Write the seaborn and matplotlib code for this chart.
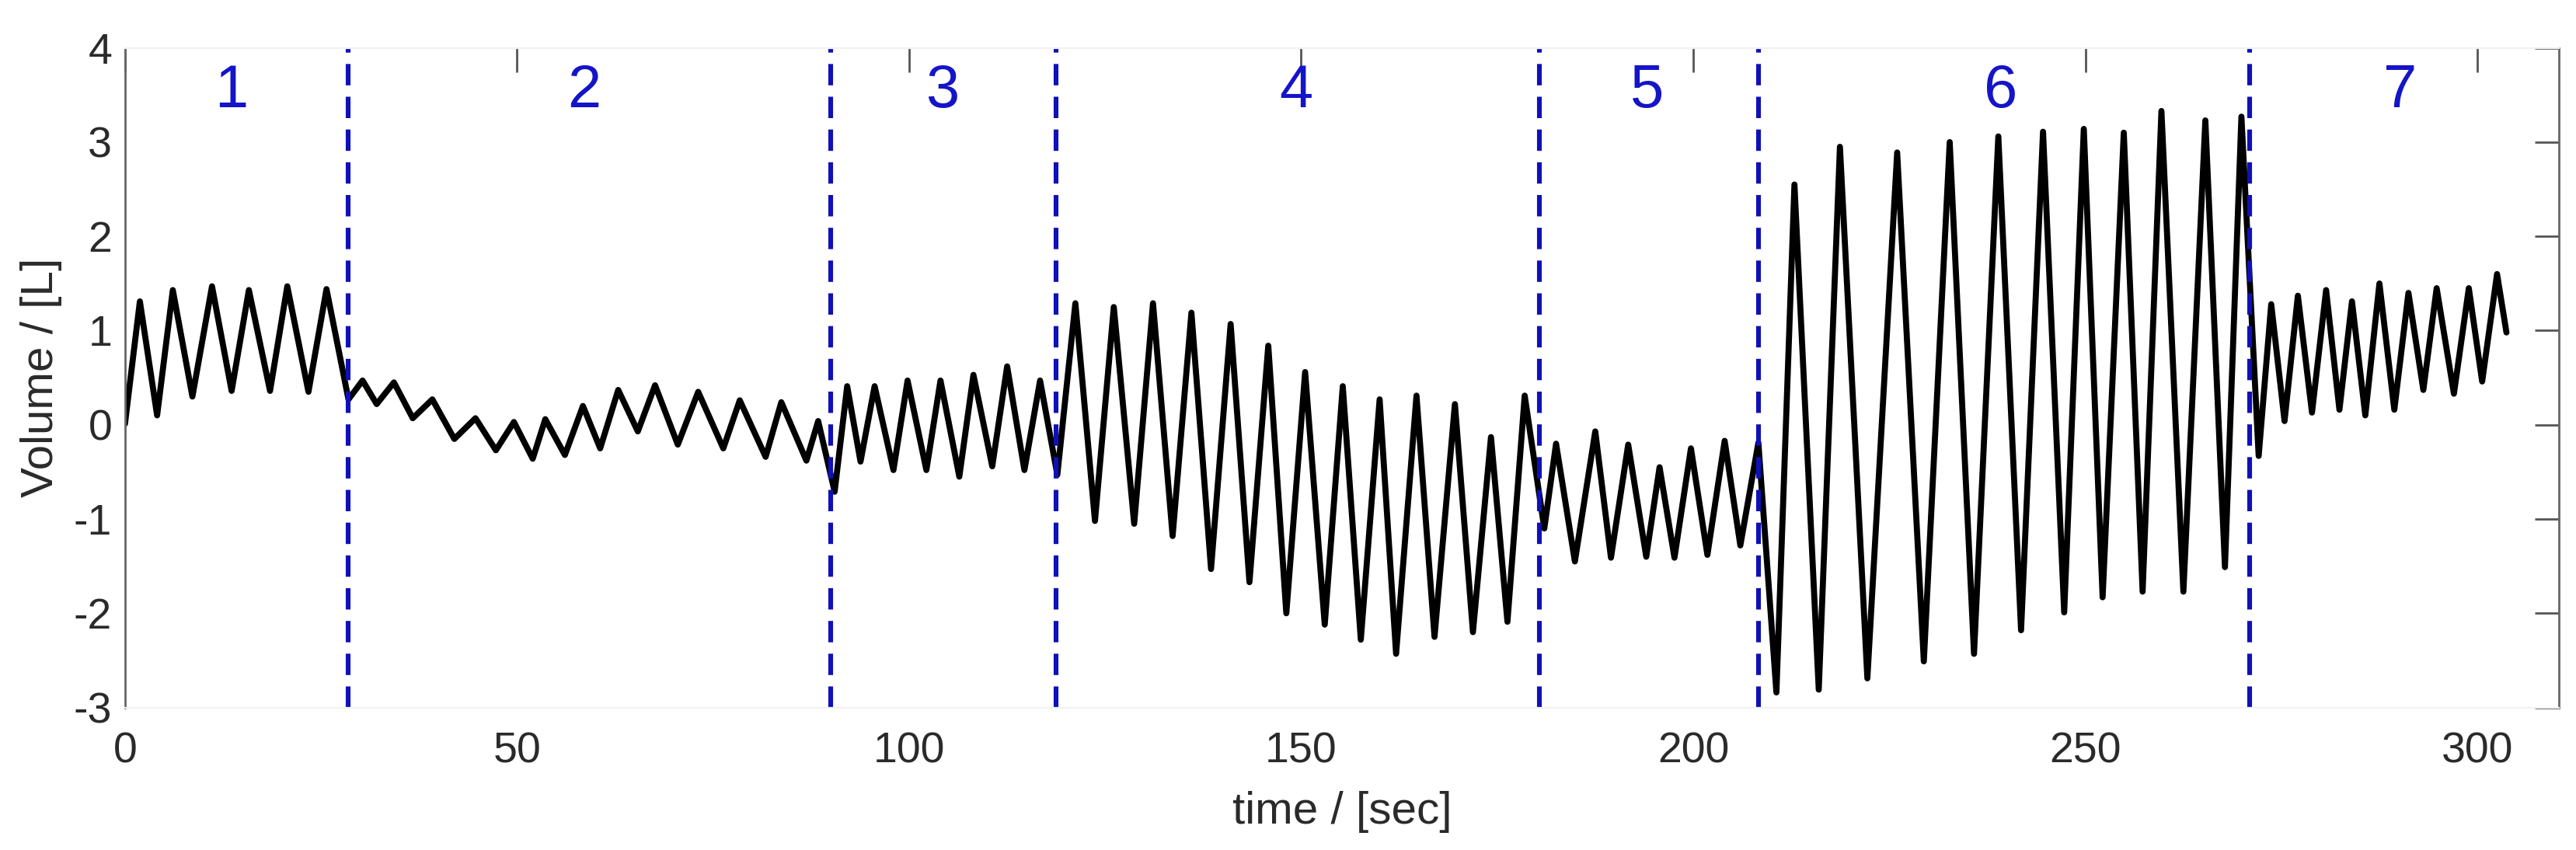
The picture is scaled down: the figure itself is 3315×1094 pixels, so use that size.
import numpy as np
import pandas as pd
import matplotlib
matplotlib.use('Agg')
import matplotlib.pyplot as plt
import seaborn as sns

time_s = [0, 1.9, 4.1, 6.1, 8.6, 11.1, 13.6, 15.8, 18.5, 20.7,
          23.4, 25.7, 28.5, 30.3, 32.1, 34.3, 36.7, 39.2, 42.0, 44.7,
          47.3, 49.6, 52.0, 53.6, 56.1, 58.4, 60.6, 62.9, 65.4, 67.6,
          70.5, 73.1, 76.3, 78.4, 81.7, 83.7, 86.9, 88.4, 90.5, 92.1,
          93.8, 95.6, 98.0, 99.8, 102.2, 104.0, 106.4, 108.2, 110.6, 112.5,
          114.7, 116.7, 118.9, 121.2, 123.7, 126.1, 128.7, 131.1, 133.6, 136.0,
          138.5, 141.0, 143.4, 145.8, 148.1, 150.5, 153.0, 155.3, 157.6, 160.0,
          162.1, 164.7, 167.0, 169.6, 171.9, 174.2, 176.3, 178.5, 181.0, 182.5,
          184.9, 187.5, 189.5, 191.7, 194.0, 195.7, 197.6, 199.7, 201.8, 204.0,
          206.0, 208.3, 210.6, 212.9, 216.0, 218.7, 222.2, 226.0, 229.4, 232.7,
          235.8, 238.9, 241.8, 244.6, 247.3, 249.8, 252.2, 254.9, 257.3, 259.7,
          262.5, 265.3, 267.8, 269.9, 272.1, 273.7, 275.4, 277.1, 278.9, 280.7,
          282.4, 284.0, 285.7, 287.5, 289.4, 291.2, 293.1, 294.8, 297.0, 298.9,
          300.6, 302.5, 303.7]
volume_l = [0.01, 1.31, 0.10, 1.43, 0.30, 1.47, 0.36, 1.43, 0.36, 1.47,
            0.35, 1.44, 0.27, 0.47, 0.22, 0.45, 0.07, 0.27, -0.15, 0.07,
            -0.27, 0.03, -0.36, 0.06, -0.32, 0.20, -0.25, 0.37, -0.07, 0.42,
            -0.21, 0.35, -0.25, 0.26, -0.34, 0.24, -0.38, 0.04, -0.71, 0.41,
            -0.39, 0.41, -0.48, 0.47, -0.48, 0.47, -0.55, 0.53, -0.44, 0.62,
            -0.48, 0.47, -0.53, 1.29, -1.02, 1.25, -1.05, 1.29, -1.18, 1.19,
            -1.53, 1.07, -1.67, 0.84, -2.0, 0.56, -2.12, 0.41, -2.28, 0.27,
            -2.43, 0.31, -2.25, 0.22, -2.2, -0.13, -2.09, 0.31, -1.1, -0.2,
            -1.45, -0.07, -1.41, -0.21, -1.40, -0.45, -1.41, -0.25, -1.38, -0.17,
            -1.28, -0.19, -2.84, 2.55, -2.81, 2.95, -2.69, 2.89, -2.51, 3.0,
            -2.43, 3.06, -2.18, 3.11, -1.99, 3.14, -1.83, 3.10, -1.77, 3.33,
            -1.77, 3.23, -1.51, 3.27, -0.33, 1.28, 0.04, 1.37, 0.13, 1.43,
            0.16, 1.31, 0.10, 1.50, 0.16, 1.40, 0.37, 1.45, 0.33, 1.45,
            0.46, 1.60, 0.98]

# phase boundaries and phase labels
boundaries = [28.5, 90.0, 118.7, 180.4, 208.3, 270.9]
phase_labels = ['1', '2', '3', '4', '5', '6', '7']
phase_label_x = [13.6, 58.6, 104.2, 149.3, 194.1, 239.2, 290.1]

df = pd.DataFrame({'time': time_s, 'volume': volume_l})

sns.set_style('white')
plt.rcParams['font.family'] = ['Liberation Sans', 'DejaVu Sans']
plt.rcParams['axes.unicode_minus'] = False

fig = plt.figure(figsize=(16.58, 5.47), dpi=200)
ax = fig.add_axes([0.0485, 0.1676, 0.9446, 0.7761])

sns.lineplot(data=df, x='time', y='volume', ax=ax, color='black', lw=2.8,
             sort=False, estimator=None)
ax.lines[-1].set_solid_joinstyle('round')
ax.lines[-1].set_solid_capstyle('round')

blue = '#1010b8'
for b in boundaries:
    ax.axvline(b, color=blue, lw=2.2, ls=(0, (4.5, 2.4)))
for lab, x in zip(phase_labels, phase_label_x):
    ax.text(x, 3.54, lab, color='#1414c8', fontsize=28, ha='center', va='center')

ax.set_xlim(0, 310.4)
ax.set_ylim(-3, 4)
ax.set_xticks(np.arange(0, 301, 50))
ax.set_yticks(np.arange(-3, 5, 1))

ax.tick_params(direction='in', top=True, right=True, length=11, width=1,
               color='#555555', labelcolor='#2a2a2a', labelsize=20)
ax.tick_params(axis='x', pad=11)
ax.tick_params(axis='y', pad=6)
for side in ['left', 'right']:
    ax.spines[side].set_color('#666666')
    ax.spines[side].set_linewidth(1)
for side in ['top', 'bottom']:
    ax.spines[side].set_color('#f2f2f2')

ax.set_xlabel('time / [sec]', fontsize=21, color='#2a2a2a')
ax.set_ylabel('Volume / [L]', fontsize=21, color='#2a2a2a')
ax.xaxis.set_label_coords(0.5, -0.127)
ax.yaxis.set_label_coords(-0.0258, 0.5)

fig.savefig('out.png', dpi=200)
